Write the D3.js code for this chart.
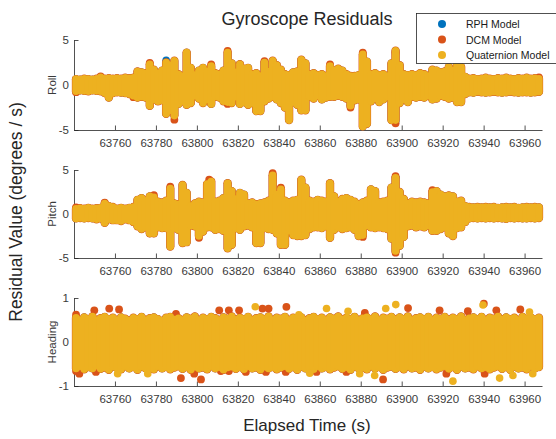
<!DOCTYPE html>
<html>
<head>
<meta charset="utf-8">
<script src="https://cdn.jsdelivr.net/npm/d3@7"></script>
<style>
  html, body { margin: 0; padding: 0; background: #fff; }
  svg { display: block; }
  text { font-family: "Liberation Sans", Arial, Helvetica, sans-serif; }
</style>
</head>
<body>
<svg id="chart" width="556" height="439"></svg>
<script>
// ---------------- DATA ----------------
const seriesNames = ["RPH Model", "DCM Model", "Quaternion Model"];
const seriesColors = ["#0072BD", "#D95319", "#EDB120"];
const panelNames = ["Roll", "Pitch", "Heading"];
const xTicks = [63760, 63780, 63800, 63820, 63840, 63860, 63880, 63900, 63920, 63940, 63960];
const rollTicks = [-5, 0, 5];
const pitchTicks = [-5, 0, 5];
const headingTicks = [-1, 0, 1];
const xRange = [63740, 63968.5];

// sample times (s) of the envelope bins
const times = [
  63741,63743,63745,63747,63749,63751,63753,63755,63757,63759,
  63761,63763,63765,63767,63769,63771,63773,63775,63777,63779,
  63781,63783,63785,63787,63789,63791,63793,63795,63797,63799,
  63801,63803,63805,63807,63809,63811,63813,63815,63817,63819,
  63821,63823,63825,63827,63829,63831,63833,63835,63837,63839,
  63841,63843,63845,63847,63849,63851,63853,63855,63857,63859,
  63861,63863,63865,63867,63869,63871,63873,63875,63877,63879,
  63881,63883,63885,63887,63889,63891,63893,63895,63897,63899,
  63901,63903,63905,63907,63909,63911,63913,63915,63917,63919,
  63921,63923,63925,63927,63929,63931,63933,63935,63937,63939,
  63941,63943,63945,63947,63949,63951,63953,63955,63957,63959,
  63961,63963,63965,63967];

// Roll residual extremes (deg/s) in each bin
const rollHi = [
  0.65,0.6,0.7,0.65,0.6,0.7,0.85,0.7,0.75,0.7,
  0.75,0.7,0.8,0.75,0.8,1.5,1.4,1.3,2.3,1.7,
  1.3,1.6,2.5,2.2,2.7,1.2,1.0,3.6,1.9,1.1,
  1.6,1.9,1.5,2.1,1.3,1.2,1.6,3.6,2.4,1.4,
  2.3,1.8,1.9,1.2,1.3,1.0,2.5,1.5,2.7,2.2,
  1.7,1.2,1.1,1.4,1.5,2.8,2.4,1.2,1.3,1.1,
  1.2,1.0,2.1,1.6,1.8,1.6,1.2,1.0,1.0,1.1,
  3.4,2.6,1.2,1.3,1.1,1.2,1.0,2.4,3.8,2.2,
  1.2,1.1,1.2,1.1,1.3,1.2,1.0,1.7,1.6,1.4,
  1.5,2.0,1.6,2.3,2.0,0.9,0.7,0.75,0.65,0.7,
  0.8,0.7,0.65,0.75,0.7,0.8,0.7,0.65,0.75,0.7,
  0.8,0.7,0.75,0.7];
const rollLo = [
  -0.7,-0.6,-0.65,-0.7,-0.6,-0.65,-0.7,-0.9,-1.4,-0.9,
  -0.8,-0.85,-0.9,-1.0,-1.2,-1.4,-1.3,-1.4,-2.3,-1.6,
  -1.8,-1.7,-3.2,-2.8,-3.4,-2.1,-1.8,-2.2,-2.0,-1.2,
  -1.5,-2.0,-1.6,-2.1,-1.3,-1.4,-1.8,-1.9,-2.0,-1.3,
  -2.1,-1.9,-2.2,-2.0,-2.9,-2.9,-1.8,-1.5,-1.3,-1.6,
  -2.0,-2.5,-3.9,-1.9,-2.2,-2.8,-2.8,-1.3,-1.5,-1.2,
  -1.6,-1.4,-1.3,-1.3,-1.2,-1.3,-1.5,-2.3,-1.7,-1.6,
  -4.6,-4.3,-1.8,-1.5,-1.9,-1.6,-1.3,-3.9,-3.9,-2.0,
  -1.6,-1.9,-1.3,-1.4,-1.3,-1.4,-1.2,-1.6,-1.5,-1.2,
  -1.3,-1.5,-1.4,-1.9,-1.9,-1.0,-0.8,-0.85,-0.75,-0.8,
  -0.85,-0.8,-0.75,-0.8,-0.85,-0.8,-0.75,-0.8,-0.85,-0.8,
  -0.8,-0.85,-0.8,-0.75];

// Pitch residual extremes
const pitchHi = [
  0.6,0.65,0.6,0.7,0.6,0.65,0.7,1.2,0.9,0.8,
  0.6,0.7,0.6,0.7,0.8,1.6,1.8,1.5,2.0,1.9,
  1.4,1.3,1.5,2.9,1.2,1.1,3.3,2.4,0.9,1.2,
  1.4,1.3,3.4,3.7,1.4,1.5,1.8,3.5,2.6,1.7,
  2.4,2.2,1.2,1.3,1.1,1.2,1.3,1.5,4.4,2.2,
  2.8,1.5,1.3,1.5,1.6,3.9,3.0,1.5,1.4,1.6,
  1.5,1.4,3.5,2.0,1.4,1.7,1.8,1.6,1.4,1.1,
  1.3,1.5,2.8,2.6,1.3,1.4,1.5,3.0,4.1,2.5,
  1.7,1.2,1.4,1.3,1.4,1.3,1.2,2.5,2.6,2.2,
  2.0,2.1,2.0,1.4,1.5,0.9,0.8,0.75,0.8,0.75,
  0.8,0.75,0.8,0.7,0.75,0.8,0.75,0.8,0.7,0.75,
  0.8,0.75,0.8,0.75];
const pitchLo = [
  -0.5,-0.45,-0.5,-0.45,-0.5,-0.6,-0.5,-1.0,-0.6,-0.7,
  -0.7,-0.8,-0.6,-0.7,-0.9,-1.4,-1.7,-1.5,-2.2,-2.2,
  -1.5,-1.6,-1.6,-3.7,-1.6,-1.8,-3.3,-3.2,-1.3,-1.4,
  -2.5,-2.0,-1.5,-1.5,-1.8,-1.7,-1.9,-3.9,-3.5,-1.6,
  -1.8,-1.4,-1.3,-1.5,-3.3,-3.3,-1.6,-1.7,-1.8,-2.2,
  -3.5,-3.5,-1.9,-2.4,-2.5,-2.5,-2.4,-1.7,-1.5,-1.5,
  -1.6,-1.4,-2.7,-1.8,-1.5,-1.7,-1.6,-1.5,-1.8,-2.5,
  -2.4,-1.3,-1.5,-1.6,-1.5,-1.6,-1.7,-2.8,-4.2,-3.6,
  -2.6,-1.4,-1.3,-1.5,-1.4,-1.5,-1.3,-1.9,-1.9,-1.7,
  -1.5,-2.2,-2.5,-1.6,-1.5,-0.9,-0.5,-0.45,-0.5,-0.45,
  -0.5,-0.45,-0.5,-0.45,-0.5,-0.55,-0.45,-0.5,-0.45,-0.5,
  -0.5,-0.45,-0.5,-0.45];

// Heading residual extremes
const headingHi = [
  0.55,0.5,0.56,0.52,0.58,0.5,0.54,0.57,0.52,0.55,
  0.5,0.56,0.53,0.49,0.55,0.52,0.57,0.5,0.54,0.56,
  0.52,0.48,0.55,0.57,0.51,0.54,0.5,0.56,0.53,0.58,
  0.5,0.55,0.52,0.57,0.54,0.5,0.56,0.53,0.58,0.51,
  0.55,0.52,0.57,0.5,0.54,0.56,0.52,0.58,0.5,0.55,
  0.53,0.57,0.5,0.55,0.52,0.56,0.49,0.54,0.57,0.52,
  0.55,0.5,0.56,0.53,0.58,0.51,0.55,0.52,0.57,0.5,
  0.54,0.56,0.52,0.58,0.5,0.55,0.53,0.57,0.51,0.56,
  0.52,0.58,0.5,0.54,0.56,0.52,0.57,0.5,0.55,0.53,
  0.57,0.51,0.55,0.52,0.58,0.5,0.54,0.56,0.52,0.57,
  0.5,0.55,0.53,0.58,0.51,0.56,0.52,0.55,0.5,0.57,
  0.53,0.56,0.52,0.55];
const headingLo = [
  -0.6,-0.55,-0.62,-0.57,-0.6,-0.54,-0.61,-0.58,-0.63,-0.56,
  -0.59,-0.62,-0.55,-0.6,-0.57,-0.63,-0.56,-0.6,-0.58,-0.62,
  -0.55,-0.6,-0.57,-0.62,-0.58,-0.55,-0.61,-0.57,-0.63,-0.56,
  -0.6,-0.58,-0.62,-0.55,-0.6,-0.57,-0.63,-0.58,-0.56,-0.61,
  -0.57,-0.62,-0.55,-0.6,-0.58,-0.63,-0.56,-0.6,-0.57,-0.62,
  -0.58,-0.55,-0.61,-0.57,-0.63,-0.56,-0.6,-0.58,-0.62,-0.55,
  -0.6,-0.57,-0.62,-0.58,-0.55,-0.61,-0.57,-0.63,-0.56,-0.6,
  -0.58,-0.62,-0.55,-0.6,-0.57,-0.63,-0.58,-0.56,-0.61,-0.57,
  -0.62,-0.55,-0.6,-0.58,-0.63,-0.56,-0.6,-0.57,-0.62,-0.58,
  -0.55,-0.61,-0.57,-0.63,-0.56,-0.6,-0.58,-0.62,-0.55,-0.6,
  -0.57,-0.62,-0.58,-0.55,-0.61,-0.57,-0.63,-0.56,-0.6,-0.58,
  -0.62,-0.55,-0.6,-0.57];

// isolated points that stick out of the envelope: [time, value]
const rollRphPts = [[63785, 2.75], [63897, -4.05]];
const rollDcmPts = [[63753, 0.95], [63769, -1.35], [63777, 2.45], [63789, -3.85], [63807, 2.3],
  [63815, 3.8], [63815, -2.1], [63833, 2.65], [63865, 2.3], [63875, -2.5], [63881, 3.6],
  [63897, -4.25], [63897, 3.6], [63741, -0.8], [63967, 0.85]];
const pitchRphPts = [[63897, 4.2]];
const pitchDcmPts = [[63779, 2.15], [63787, 3.1], [63801, -2.7], [63806, 3.9], [63837, 4.65],
  [63841, 3.0], [63881, -2.6], [63897, -4.4], [63897, 4.3], [63915, 2.7], [63755, 1.3], [63741, 0.75]];
const headingDcmPts = [[63749.9,0.72],[63757.2,0.76],[63762,0.74],[63789.8,0.64],[63810.9,0.72],
  [63815.6,0.72],[63820.6,0.72],[63832,0.76],[63835,0.76],[63843.7,0.8],[63882,0.66],[63903.1,0.77],
  [63918.5,0.72],[63932.3,0.7],[63940.1,0.87],[63946.2,0.72],[63957.9,0.74],[63742.6,-0.72],
  [63750.7,-0.68],[63792.2,-0.82],[63798.7,-0.72],[63802,-0.85],[63811.7,-0.66],[63815.6,-0.66],
  [63823.9,-0.68],[63833.7,-0.68],[63843.4,-0.68],[63858.4,-0.68],[63873,-0.68],[63890.9,-0.85],
  [63921.8,-0.72],[63940.5,-0.72],[63741,-0.66],[63741,0.62]];
const headingQuatPts = [[63828.5,0.8],[63863.3,0.76],[63873.8,0.7],[63892.2,0.76],[63897.1,0.85],
  [63939.7,0.84],[63849.8,0.62],[63962.4,0.68],[63761.3,-0.72],[63776,-0.72],[63855.1,-0.71],
  [63879.5,-0.72],[63886.8,-0.76],[63925,-0.89],[63947.8,-0.82],[63954.3,-0.76],[63964,-0.72]];

// ---------------- DRAWING ----------------
const svg = d3.select("#chart");
const axisColor = "#262626";
const left = 74, right = 542;
const x = d3.scaleLinear().domain(xRange).range([left, right]);

const panels = [
  { name: panelNames[0], top: 40, bottom: 130, ticks: rollTicks, hi: rollHi, lo: rollLo,
    pts: [rollRphPts, rollDcmPts, []] },
  { name: panelNames[1], top: 170, bottom: 258, ticks: pitchTicks, hi: pitchHi, lo: pitchLo,
    pts: [pitchRphPts, pitchDcmPts, []] },
  { name: panelNames[2], top: 298, bottom: 386, ticks: headingTicks, hi: headingHi, lo: headingLo,
    pts: [[], headingDcmPts, headingQuatPts] }
];

const widths = [7.6, 8.4, 7.6];
const radii = [3.8, 3.9, 3.8];

panels.forEach(p => {
  const y = d3.scaleLinear().domain([p.ticks[0], p.ticks[p.ticks.length - 1]]).range([p.bottom, p.top]);
  const g = svg.append("g");

  // axes (drawn below the data, MATLAB default layer)
  const xAxis = d3.axisBottom(x).tickValues(xTicks).tickFormat(d3.format("d"))
    .tickSizeInner(-4.5).tickSizeOuter(0).tickPadding(8.5);
  const gx = g.append("g").attr("transform", `translate(0,${p.bottom})`).call(xAxis);
  const yAxis = d3.axisLeft(y).tickValues(p.ticks).tickFormat(d3.format("d"))
    .tickSizeInner(-4.5).tickSizeOuter(0).tickPadding(5);
  const gy = g.append("g").attr("transform", `translate(${left},0)`).call(yAxis);
  [gx, gy].forEach(a => {
    a.select(".domain").attr("stroke", axisColor).attr("stroke-width", 0.8);
    a.selectAll(".tick line").attr("stroke", axisColor).attr("stroke-width", 0.8);
    a.selectAll(".tick text").attr("fill", "#3a3a3a").style("font-size", "11.5px")
      .style("font-family", '"Liberation Sans", Arial, sans-serif');
  });
  gy.selectAll(".tick text").text(d => d < 0 ? "-" + Math.abs(d) : d);

  // panel y label
  g.append("text")
    .attr("transform", `translate(${56},${(p.top + p.bottom) / 2}) rotate(-90)`)
    .attr("text-anchor", "middle").attr("fill", "#3a3a3a")
    .style("font-size", "11.5px").text(p.name);

  // data: three series, drawn in order so Quaternion lies on top
  seriesNames.forEach((s, si) => {
    const sg = g.append("g");
    sg.selectAll("line").data(times).join("line")
      .attr("x1", d => x(d)).attr("x2", d => x(d))
      .attr("y1", (d, i) => y(p.hi[i])).attr("y2", (d, i) => y(p.lo[i]))
      .attr("stroke", seriesColors[si]).attr("stroke-width", widths[si])
      .attr("stroke-linecap", "round");
    sg.selectAll("circle").data(p.pts[si]).join("circle")
      .attr("cx", d => x(d[0])).attr("cy", d => y(d[1])).attr("r", radii[si])
      .attr("fill", seriesColors[si]);
  });
});

// Title and axis labels
svg.append("text").attr("x", 307).attr("y", 25).attr("text-anchor", "middle")
  .attr("fill", "#262626").style("font-size", "18px").text("Gyroscope Residuals");
svg.append("text").attr("x", 307).attr("y", 431).attr("text-anchor", "middle")
  .attr("fill", "#262626").style("font-size", "17px").text("Elapsed Time (s)");
svg.append("text").attr("transform", "translate(22,212) rotate(-90)").attr("text-anchor", "middle")
  .attr("fill", "#262626").style("font-size", "17.5px").text("Residual Value (degrees / s)");

// Legend
const lg = svg.append("g");
lg.append("rect").attr("x", 416.5).attr("y", 13.5).attr("width", 145).attr("height", 50)
  .attr("fill", "#fff").attr("stroke", axisColor).attr("stroke-width", 0.8);
seriesNames.forEach((s, i) => {
  const yy = 24 + i * 15.5;
  lg.append("circle").attr("cx", 442).attr("cy", yy).attr("r", 4).attr("fill", seriesColors[i]);
  lg.append("text").attr("x", 466).attr("y", yy + 4).attr("fill", "#1a1a1a")
    .style("font-size", "10.5px").text(s);
});
</script>
</body>
</html>
